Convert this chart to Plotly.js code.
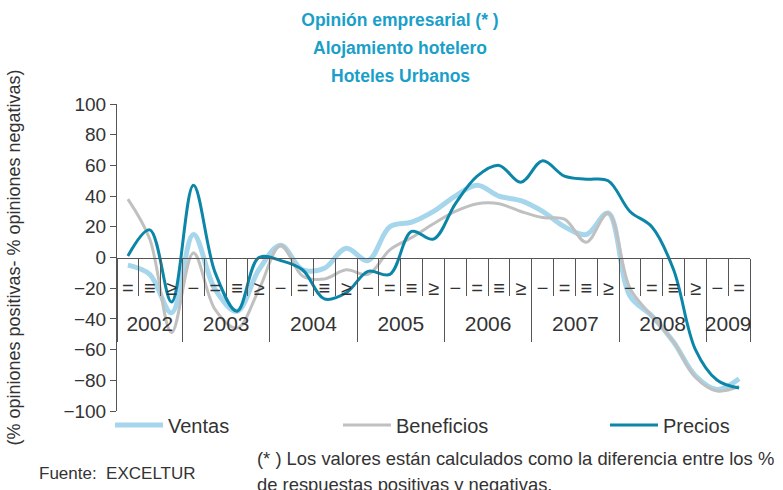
<!DOCTYPE html>
<html>
<head>
<meta charset="utf-8">
<script src="https://cdn.plot.ly/plotly-3.0.1.min.js"></script>
<style>
  html, body { margin: 0; padding: 0; background: #fff; }
  #chart { width: 783px; height: 490px; }
</style>
</head>
<body>
<div id="chart"></div>
<script>
// quarterly survey balance, 2002 Q2 .. 2009 Q2
var years = ["2002", "2003", "2004", "2005", "2006", "2007", "2008", "2009"];
var quarterLabels = ["\u2212", "=", "\u2261", "\u2265"]; // I, II, III, IV as printed
var firstQuarter = 1; // 2002 starts at II
var lastQuarter = 1;  // 2009 ends at II

var ventas = [-5, -11, -36, 15, -21, -35, -8, 8, -8, -7, 6, -2, 20, 23, 30, 40, 47, 40, 37, 30, 20, 15, 29, -25, -38, -55, -77, -86, -79];
var beneficios = [38, 12, -49, 3, -34, -46, -21, 8, -12, -14, -8, -11, 5, 13, 22, 30, 35, 35, 30, 26, 25, 10, 29, -20, -38, -55, -78, -87, -84];
var precios = [1, 18, -29, 47, -10, -35, 0, -2, -8, -27, -23, -9, -11, 17, 12, 35, 53, 60, 49, 63, 53, 51, 50, 30, 20, -8, -60, -80, -85];

// build quarter ids, their printed labels and the year groups
var quarterIds = [], quarterAlias = {};
var yearCenters = [], yearBounds = [-0.5];
years.forEach(function (y, i) {
  var qs = i == 0 ? firstQuarter : 0;
  var qe = i == years.length - 1 ? lastQuarter : 3;
  var start = quarterIds.length;
  for (var q = qs; q <= qe; q++) {
    var id = y + "-" + (q + 1);
    quarterIds.push(id);
    quarterAlias[id] = quarterLabels[q];
  }
  var end = quarterIds.length - 1;
  yearCenters.push((start + end) / 2);
  yearBounds.push(end + 0.5);
});
var nq = quarterIds.length;
var quarterBounds = [];
for (var b = 0; b <= nq; b++) quarterBounds.push(b - 0.5);

var fontFam = "Liberation Sans, Arial, sans-serif";
var titleColor = "#1a9fc9";

var traces = [
  {
    x: quarterIds, y: ventas, name: "Ventas", mode: "lines",
    line: { color: "#a6d6ec", width: 5, shape: "spline", smoothing: 1 },
    legend: "legend"
  },
  {
    x: quarterIds, y: beneficios, name: "Beneficios", mode: "lines",
    line: { color: "#c0c0c0", width: 3, shape: "spline", smoothing: 1 },
    legend: "legend2"
  },
  {
    x: quarterIds, y: precios, name: "Precios", mode: "lines",
    line: { color: "#0b86a8", width: 3, shape: "spline", smoothing: 1 },
    legend: "legend3"
  },
  // keep the year axis and the quarter-box axis alive
  { x: [0], y: [null], xaxis: "x2", mode: "lines", showlegend: false, hoverinfo: "skip" },
  { x: [0], y: [null], xaxis: "x3", mode: "lines", showlegend: false, hoverinfo: "skip" }
];

function legendAt(px) {
  return {
    orientation: "h", x: (px - 117) / 633, xanchor: "left",
    y: -(425 - 411) / 307, yanchor: "middle",
    font: { family: fontFam, size: 20, color: "#333" },
    bgcolor: "rgba(0,0,0,0)", itemwidth: 48
  };
}

function titleLine(txt, py) {
  return {
    text: "<b>" + txt + "</b>",
    xref: "paper", yref: "paper", x: (400 - 117) / 633, y: 1 + (104 - py) / 307,
    xanchor: "center", yanchor: "middle", showarrow: false,
    font: { family: fontFam, size: 17.5, color: titleColor }
  };
}

var layout = {
  width: 783,
  height: 490,
  margin: { l: 117, r: 33, t: 104, b: 79 },
  paper_bgcolor: "#fff",
  plot_bgcolor: "#fff",
  font: { family: fontFam, color: "#333" },
  title: {
    text: "<b>Opinión empresarial (* )</b>",
    font: { family: fontFam, size: 17.5, color: titleColor },
    xref: "container", x: 400 / 783, xanchor: "center",
    yref: "container", y: 1 - 20 / 490, yanchor: "middle"
  },
  // quarter labels
  xaxis: {
    type: "category",
    categoryorder: "array", categoryarray: quarterIds,
    tickmode: "linear", tick0: 0, dtick: 1, labelalias: quarterAlias,
    anchor: "free", position: 0.5,
    range: [-0.5, nq - 0.5],
    showline: true, linecolor: "#555", linewidth: 1,
    ticks: "", ticklabelstandoff: 12, tickangle: 0,
    tickfont: { family: fontFam, size: 20, color: "#333" },
    showgrid: false, zeroline: false, automargin: false
  },
  // year labels and year dividers
  xaxis2: {
    overlaying: "x", anchor: "free", position: 0.5,
    range: [-0.5, nq - 0.5],
    tickmode: "array", tickvals: yearCenters, ticktext: years,
    ticks: "", showline: false, showgrid: false, zeroline: false,
    ticklabelstandoff: 51, tickangle: 0,
    tickfont: { family: fontFam, size: 21, color: "#333" },
    minor: { tickmode: "array", tickvals: yearBounds, ticks: "outside", ticklen: 83, tickcolor: "#555", tickwidth: 1, showgrid: false },
    automargin: false
  },
  // short quarter separators
  xaxis3: {
    overlaying: "x", anchor: "free", position: 0.5,
    range: [-0.5, nq - 0.5],
    tickmode: "array", tickvals: quarterBounds,
    ticks: "outside", ticklen: 37, tickcolor: "#555", tickwidth: 1,
    showticklabels: false, showline: false, showgrid: false, zeroline: false,
    automargin: false
  },
  yaxis: {
    range: [-100, 100], dtick: 20,
    showline: true, linecolor: "#555", linewidth: 1,
    ticks: "outside", ticklen: 6, tickcolor: "#555",
    tickfont: { family: fontFam, size: 19, color: "#333" },
    showgrid: false, zeroline: false, automargin: false,
    title: {
      text: "(% opiniones positivas- % opiniones negativas)",
      font: { family: fontFam, size: 18, color: "#333" },
      standoff: 38
    }
  },
  showlegend: true,
  legend: legendAt(110),
  legend2: legendAt(338),
  legend3: legendAt(605),
  annotations: [
    titleLine("Alojamiento hotelero", 48),
    titleLine("Hoteles Urbanos", 76),
    {
      text: "(* ) Los valores están calculados como la diferencia entre los %",
      xref: "paper", yref: "paper", x: (255 - 117) / 633, y: -(458 - 411) / 307,
      xanchor: "left", yanchor: "middle", showarrow: false,
      font: { family: fontFam, size: 18.4, color: "#333" }
    },
    {
      text: "de respuestas positivas y negativas.",
      xref: "paper", yref: "paper", x: (255 - 117) / 633, y: -(484 - 411) / 307,
      xanchor: "left", yanchor: "middle", showarrow: false,
      font: { family: fontFam, size: 18.4, color: "#333" }
    },
    {
      text: "Fuente:  EXCELTUR",
      xref: "paper", yref: "paper", x: (37 - 117) / 633, y: -(473 - 411) / 307,
      xanchor: "left", yanchor: "middle", showarrow: false,
      font: { family: fontFam, size: 17, color: "#333" }
    }
  ]
};

Plotly.newPlot("chart", traces, layout, { displayModeBar: false, staticPlot: true });
</script>
</body>
</html>
